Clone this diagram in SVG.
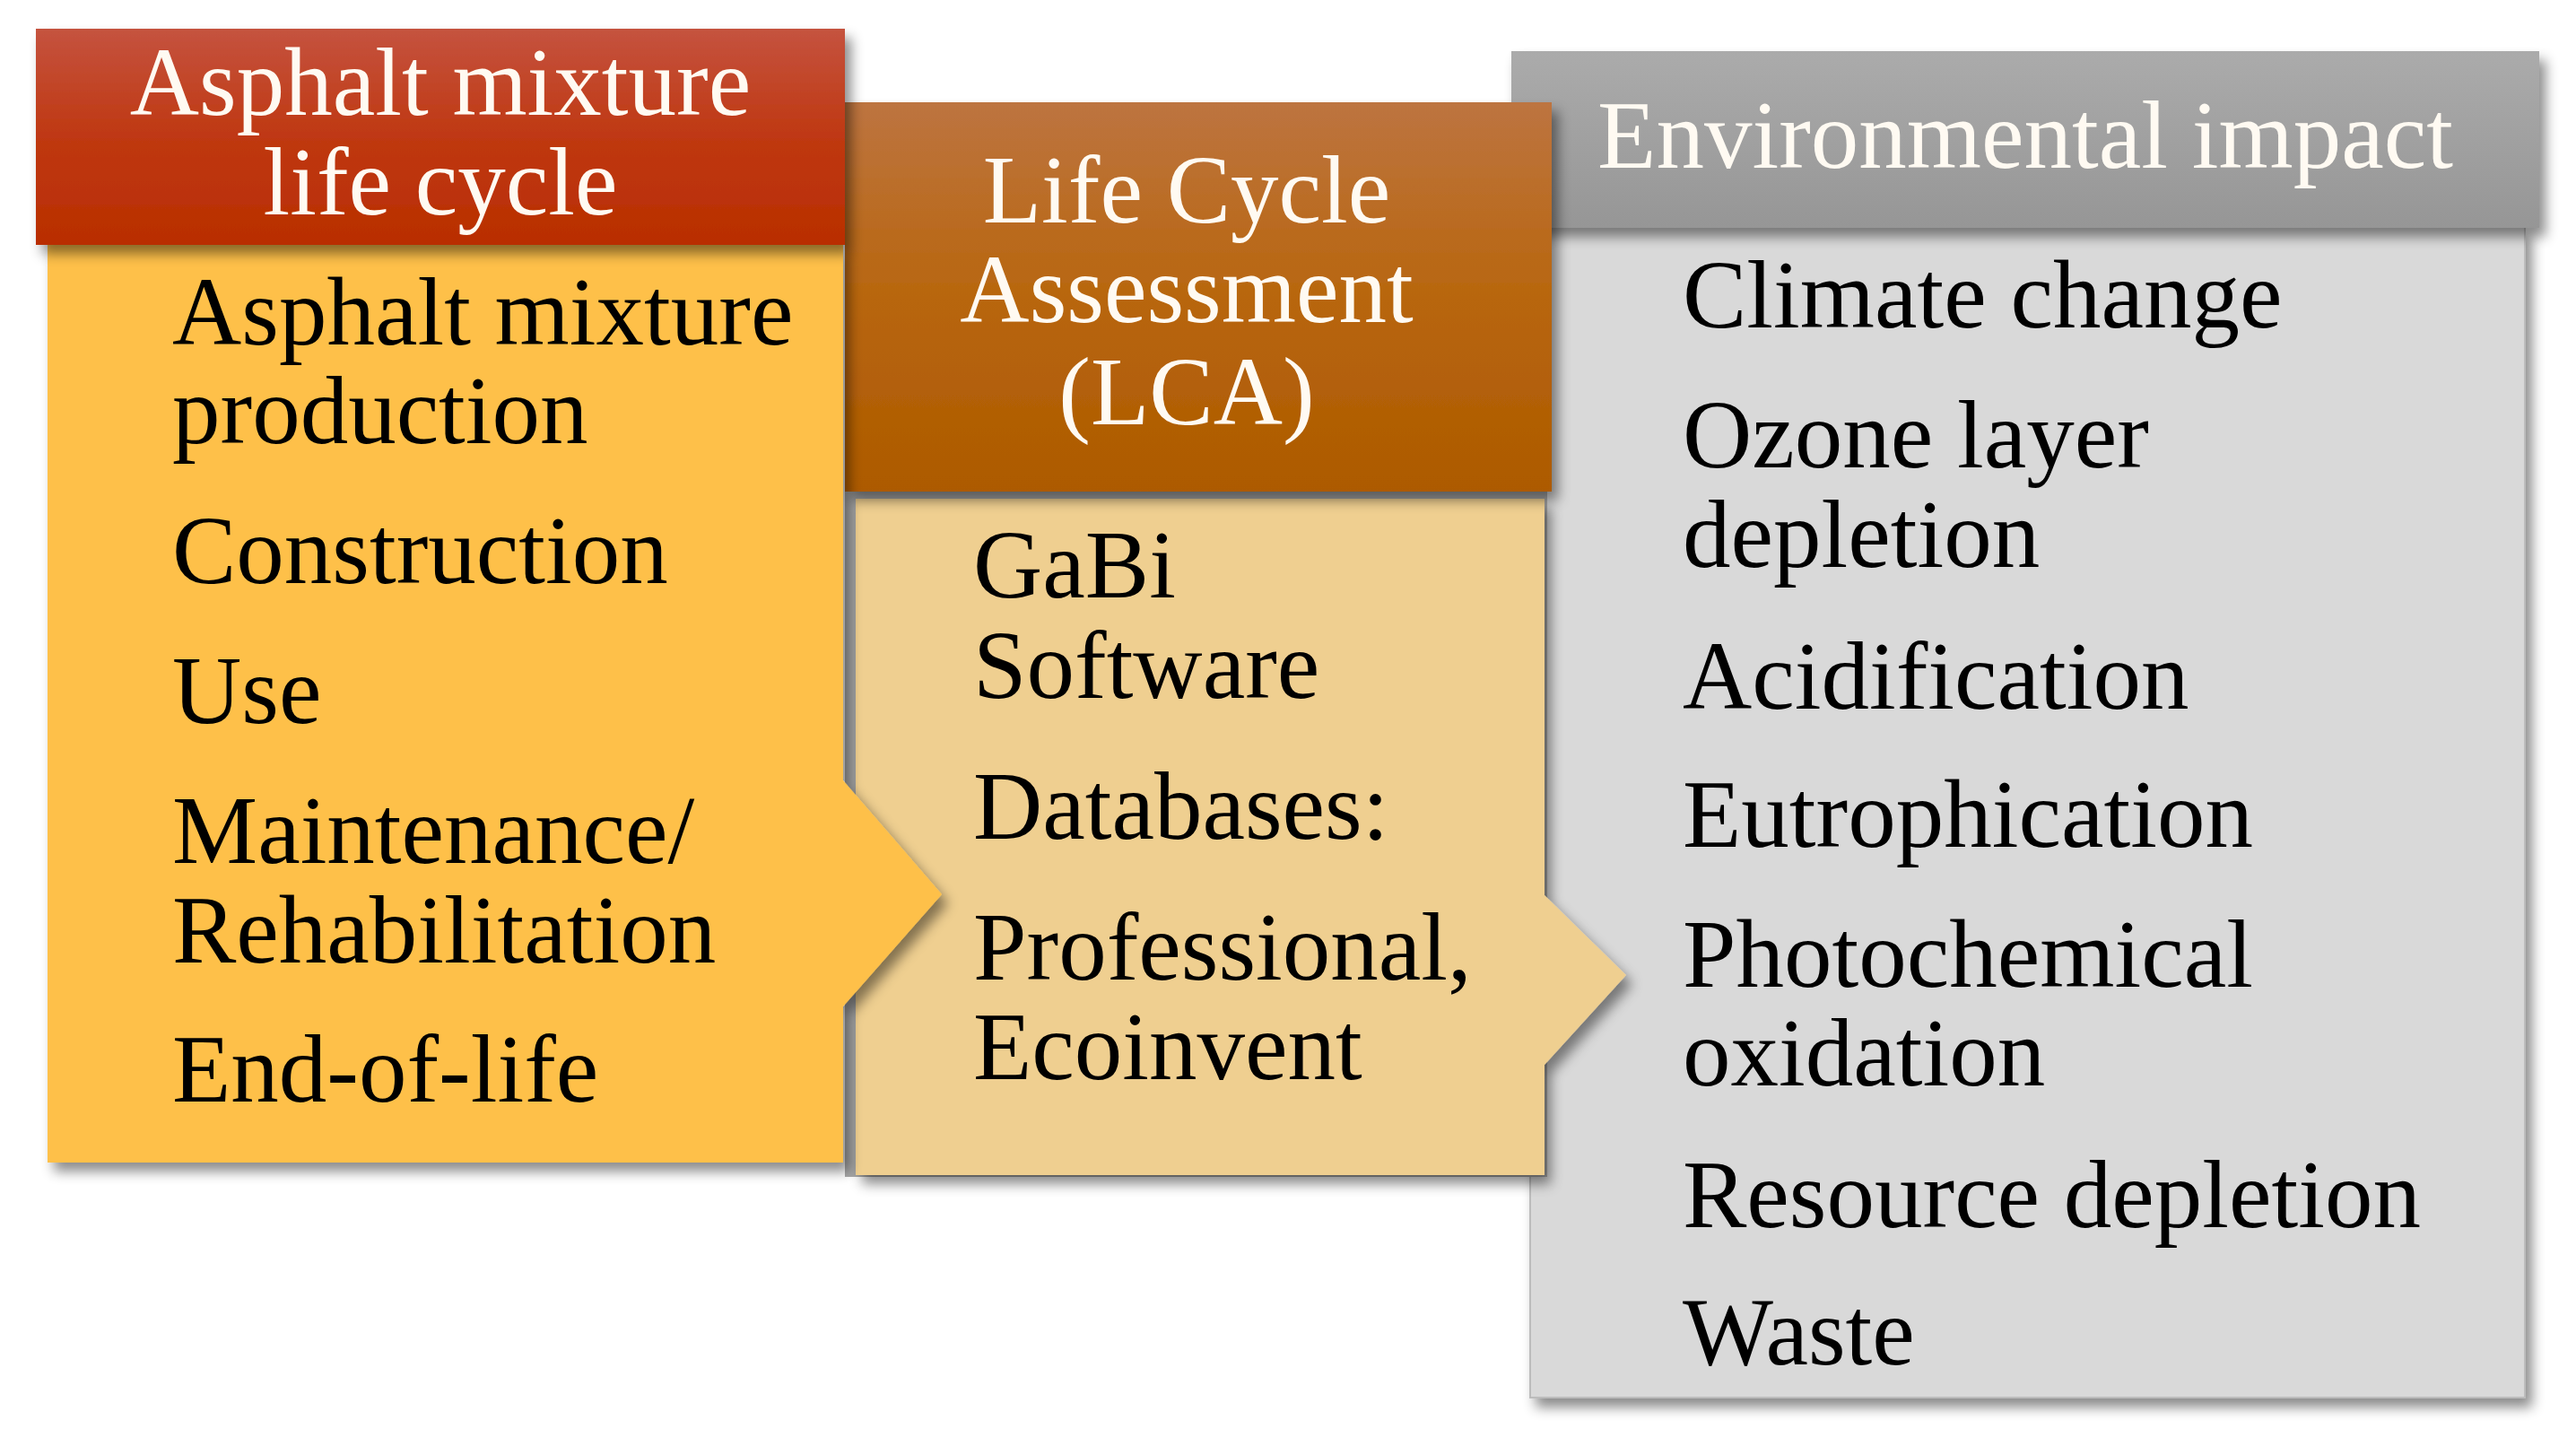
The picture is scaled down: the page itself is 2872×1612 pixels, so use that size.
<svg xmlns="http://www.w3.org/2000/svg" width="2872" height="1612" viewBox="0 0 2872 1612">
<defs>
<filter id="sh" x="-10%" y="-10%" width="125%" height="125%">
<feDropShadow dx="7" dy="10" stdDeviation="7" flood-color="#000" flood-opacity="0.45"/>
</filter>
<linearGradient id="gRed" x1="0" y1="0" x2="0" y2="1">
<stop offset="0" stop-color="#c5533f"/>
<stop offset="0.5" stop-color="#bf3812"/>
<stop offset="1" stop-color="#b92e00"/>
</linearGradient>
<linearGradient id="gBrown" x1="0" y1="0" x2="0" y2="1">
<stop offset="0" stop-color="#bd7440"/>
<stop offset="0.5" stop-color="#b8660e"/>
<stop offset="1" stop-color="#ad5a00"/>
</linearGradient>
<linearGradient id="gGrey" x1="0" y1="0" x2="0" y2="1">
<stop offset="0" stop-color="#ababab"/>
<stop offset="1" stop-color="#969696"/>
</linearGradient>
</defs>
<style>
.hd{font-family:"Liberation Serif","Times New Roman",serif;font-size:107px;fill:#fffaf2;text-anchor:middle}
.bd{font-family:"Liberation Serif","Times New Roman",serif;font-size:107px;fill:#000}
</style>
<rect x="0" y="0" width="2872" height="1612" fill="#fff"/>

<g id="impact-body">
<rect x="1706" y="253" width="1109" height="1305" fill="#d9d9d9" stroke="#bcbcbc" stroke-width="2" filter="url(#sh)"/>
<text class="bd" x="1876" y="365">Climate change</text>
<text class="bd" x="1876" y="521">Ozone layer</text>
<text class="bd" x="1876" y="632">depletion</text>
<text class="bd" x="1876" y="790">Acidification</text>
<text class="bd" x="1876" y="944">Eutrophication</text>
<text class="bd" x="1876" y="1100">Photochemical</text>
<text class="bd" x="1876" y="1210">oxidation</text>
<text class="bd" x="1876" y="1368">Resource depletion</text>
<text class="bd" x="1876" y="1521">Waste</text>
</g>
<g id="impact-header">
<rect x="1685" y="57" width="1146" height="197" fill="url(#gGrey)" filter="url(#sh)"/>
<text class="hd" x="2258" y="187">Environmental impact</text>
</g>

<g id="lca-body">
<rect x="942" y="547" width="783" height="765" fill="#a8a8a8"/>
<path d="M954,556 H1722 V998 L1813,1087 L1722,1187 V1310 H954 Z" fill="#efcf90" filter="url(#sh)"/>
<text class="bd" x="1085" y="666">GaBi</text>
<text class="bd" x="1085" y="778">Software</text>
<text class="bd" x="1085" y="935">Databases:</text>
<text class="bd" x="1085" y="1092">Professional,</text>
<text class="bd" x="1085" y="1203">Ecoinvent</text>
</g>
<g id="lca-header">
<rect x="942" y="114" width="788" height="434" fill="url(#gBrown)" filter="url(#sh)"/>
<text class="hd" x="1323" y="248">Life Cycle</text>
<text class="hd" x="1323" y="359">Assessment</text>
<text class="hd" x="1323" y="473">(LCA)</text>
</g>

<g id="lifecycle-body">
<path d="M53,273 H940 V870 L1050,997 L940,1122 V1296 H53 Z" fill="#fec04a" filter="url(#sh)"/>
<text class="bd" x="192" y="384">Asphalt mixture</text>
<text class="bd" x="192" y="494">production</text>
<text class="bd" x="192" y="650">Construction</text>
<text class="bd" x="192" y="806">Use</text>
<text class="bd" x="192" y="962">Maintenance/</text>
<text class="bd" x="192" y="1073">Rehabilitation</text>
<text class="bd" x="192" y="1228">End-of-life</text>
</g>
<g id="lifecycle-header">
<rect x="40" y="32" width="902" height="241" fill="url(#gRed)" filter="url(#sh)"/>
<text class="hd" x="491" y="128">Asphalt mixture</text>
<text class="hd" x="491" y="239">life cycle</text>
</g>
<g id="connectors"/>
</svg>
